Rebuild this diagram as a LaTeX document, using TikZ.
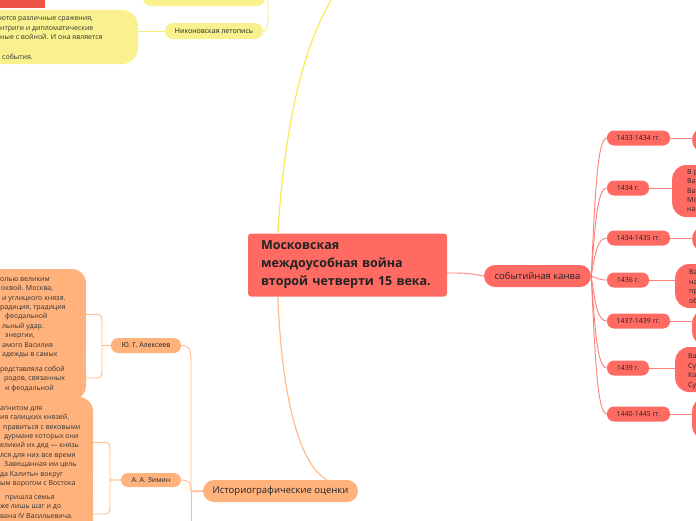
\documentclass[tikz,border=0pt]{standalone}
\usepackage{fontspec}
\setmainfont{Open Sans}
\definecolor{rc}{HTML}{FF6B63}
\definecolor{rl}{HTML}{FF7F77}
\definecolor{oc}{HTML}{FFB27C}
\definecolor{ol}{HTML}{FFBC8C}
\definecolor{yc}{HTML}{F9F18E}
\definecolor{yl}{HTML}{F6EE7A}
\definecolor{ym}{HTML}{F8EC5E}
\definecolor{tlred}{HTML}{EE5546}
\definecolor{txt}{HTML}{222222}
\definecolor{btxt}{HTML}{333333}
\newcommand\fsblob{\fontsize{7}{9.45}\selectfont}
\newcommand\fsyear{\fontsize{7}{8}\selectfont}
\newcommand\fsbig{\fontsize{9.5}{11}\selectfont}
\newcommand\fsmain{\fontsize{12.5}{18}\bfseries\selectfont}
\tikzset{
  basen/.style={inner sep=0pt, text=txt},
  rbox/.style={basen, fill=rc, rounded corners=7pt, minimum height=15pt, font=\fsyear},
  obox/.style={basen, fill=oc, rounded corners=7pt, minimum height=15pt, font=\fsyear},
  ybox/.style={basen, fill=yc, rounded corners=8pt, minimum height=16pt, font=\fsyear},
  rblob/.style={basen, fill=rc, rounded corners=14pt, minimum width=60pt},
  oblob/.style={basen, fill=oc, rounded corners=14pt},
  yblob/.style={basen, fill=yc, rounded corners=16pt},
  btext/.style={inner sep=0pt, text=btxt, align=left, font=\fsblob, anchor=north west},
  rline/.style={draw=rl, line width=0.9pt},
  oline/.style={draw=ol, line width=0.9pt},
  yline/.style={draw=yl, line width=0.9pt},
}
\begin{document}
\begin{tikzpicture}[x=1pt,y=-1pt]
\useasboundingbox (0,0) rectangle (696,520);

% top-left red node
\node[basen, fill=tlred, minimum width=60pt, minimum height=28pt] (tl) at (15,-6) {};

% yellow branch
\node[yblob, minimum width=200pt, minimum height=54pt] (ytext) at (38,37) {};
\node[btext, font=\fontsize{7}{9.75}\selectfont] (ytexttxt) at (0,13.3) {\strut ются различные сражения,\\нтриги и дипломатические\\ные с войной. И она является\\\mbox{}\\\hspace*{2pt}события.};
\node[ybox, minimum width=98pt] (nikon) at (214,31) {Никоновская летопись};
\node[ybox, minimum width=122pt, minimum height=18pt] (zhitie) at (204,-3) {Житие Даниила Московского};
\coordinate (ypar) at (268,-30);
\draw[yline] (nikon.west) -- (ytext.east |- nikon.west);
\draw[yline] (nikon.east) .. controls (268,31) and (268,22) .. (268,10) -- (ypar);
\draw[yline] (zhitie.east) .. controls (268,-3) and (268,-8) .. (ypar);

% central node
\node[basen, fill=rc, rounded corners=3pt, minimum width=199pt, minimum height=63pt,
      inner xsep=13pt, text width=173pt, align=left, font=\fsmain] (main) at (347.5,265)
      {Московская\\междоусобная война\\второй четверти 15 века.};
\coordinate (ymain) at (345,-20);
\draw[draw=ym, line width=1.3pt] ([xshift=30pt]main.north west) .. controls (285,120) and (305,30) .. (ymain);

% event branch
\node[rbox, minimum width=107pt, minimum height=22pt, rounded corners=11pt, font=\fsbig] (sob) at (537.5,276) {событийная канва};
\draw[rline] ([yshift=-8pt]main.east) .. controls (466,273) .. (sob.west);

\node[rbox, minimum width=63pt] (y1) at (638.5,138) {1433-1434 гг.};
\node[rbox, minimum width=42pt] (y2) at (628,188) {1434 г.};
\node[rbox, minimum width=63pt] (y3) at (638.5,238) {1434-1435 гг.};
\node[rbox, minimum width=42pt] (y4) at (628,280) {1436 г.};
\node[rbox, minimum width=63pt] (y5) at (638.5,321) {1437-1439 гг.};
\node[rbox, minimum width=42pt] (y6) at (628,368) {1439 г.};
\node[rbox, minimum width=63pt] (y7) at (638.5,414) {1440-1445 гг.};

\draw[rline] (sob.east) .. controls (595,200) and (597,138) .. (y1.west);
\draw[rline] (sob.east) .. controls (595,228) and (597,188) .. (y2.west);
\draw[rline] (sob.east) .. controls (595,255) and (597,238) .. (y3.west);
\draw[rline] (sob.east) .. controls (597,278) and (599,280) .. (y4.west);
\draw[rline] (sob.east) .. controls (595,301) and (597,321) .. (y5.west);
\draw[rline] (sob.east) .. controls (595,327) and (597,368) .. (y6.west);
\draw[rline] (sob.east) .. controls (595,352) and (597,414) .. (y7.west);

\node[rblob, anchor=west, minimum height=28pt] (d1) at (692,140) {};
\node[rblob, anchor=west, minimum height=52pt] (d2) at (672,191) {};
\node[rblob, anchor=west, minimum height=28pt] (d3) at (692,239) {};
\node[rblob, anchor=west, minimum height=44pt] (d4) at (675,286) {};
\node[rblob, anchor=west, minimum height=37pt] (d5) at (692,327.5) {};
\node[rblob, anchor=west, minimum height=45pt] (d6) at (675,369.5) {};
\node[rblob, anchor=west, minimum height=43pt] (d7) at (692,418.5) {};
\node[btext, text=txt, font=\fontsize{7}{9.2}\selectfont] (d2t) at (687,168) {\strut В р\\Ва\\Ва\\Мо\\на};
\node[btext, text=txt, font=\fontsize{7}{9.5}\selectfont] (d4t) at (689,268) {\strut Ва\\на\\пр\\об};
\node[btext, text=txt, font=\fontsize{7}{9.5}\selectfont] (d6t) at (688,352) {\strut Ва\\Су\\Ко\\Су};
\foreach \i in {1,...,7}{\draw[rline] (y\i.east) -- (y\i.east -| d\i.west);}

% historiography branch
\node[obox, minimum width=155pt, minimum height=22pt, rounded corners=11pt, font=\fsbig] (hist) at (280.5,491) {Историографические оценки};
\draw[draw=ol, line width=1.2pt] ([xshift=30pt]main.south west) .. controls (282,400) and (300,465) .. ([xshift=124pt]hist.north west);
\node[obox, minimum width=70pt] (alek) at (146,345.5) {Ю. Г. Алексеев};
\node[obox, minimum width=60pt, minimum height=14pt] (zimin) at (151,480) {А. А. Зимин};
\coordinate (histdown) at (191,530);
\draw[oline] (hist.west) -- (191,491) -- (191,362) .. controls (191,349) and (189,345.5) .. (alek.east);
\draw[oline] (hist.west) -- (191,491) .. controls (191,483) and (189,480) .. (zimin.east);
\draw[oline] (hist.west) -- (191,491) -- (histdown);

% Alekseev blobs
\node[oblob, minimum width=146pt, minimum height=91pt] (bA) at (13,314.5) {};
\node[oblob, minimum width=146pt, minimum height=44pt] (bB) at (13,378) {};
\fill[oc] (68,345) rectangle (86,370);
\node[btext] (bAt) at (0,274.3) {\strut олью великим\\\hspace*{1pt}оквой. Москва,\\\hspace*{2pt}и углицкого князя.\\радиция, традиция\\\hspace*{5pt}феодальной\\\hspace*{2pt}льный удар.\\\hspace*{5pt}энергии,\\\hspace*{2pt}амого Василия\\\hspace*{2pt}адежды в самых};
\node[btext] (bBt) at (0,364.3) {\strut редставляла собой\\\hspace*{4pt}родов, связанных\\\hspace*{5pt}и феодальной};
\draw[oline] (bA.east) -- (97,314.5) .. controls (102,314.5) and (102,318) .. (102,324) |- (alek.west);
\draw[oline] (bB.east) -- (97,378) .. controls (102,378) and (102,374) .. (102,368) |- (alek.west);

% Zimin blobs
\node[oblob, minimum width=153pt, minimum height=91pt] (bC) at (16.5,442.5) {};
\node[oblob, minimum width=153pt, minimum height=64pt] (bD) at (16.5,514) {};
\fill[oc] (76,474) rectangle (93,497);
\node[btext] (bCt) at (0,403.3) {\strut агнитом для\\ия галицких князей.\\\hspace*{3pt}правиться с вековыми\\\hspace*{4pt}дурмане которых они\\еликий их дед — князь\\лся для них все время\\\hspace*{4pt}Завещанная им цель\\да Калиты» вокруг\\ым ворогом с Востока};
\node[btext] (bDt) at (0,492.3) {\strut\hspace*{5pt}пришла семья\\же лишь шаг и до\\вана IV Васильевича.};
\draw[oline] (bC.east) -- (105,442.5) .. controls (110,442.5) and (110,446) .. (110,452) |- (zimin.west);
\draw[oline] (bD.east) -- (105,514) .. controls (110,514) and (110,510) .. (110,504) |- (zimin.west);
\end{tikzpicture}
\end{document}
